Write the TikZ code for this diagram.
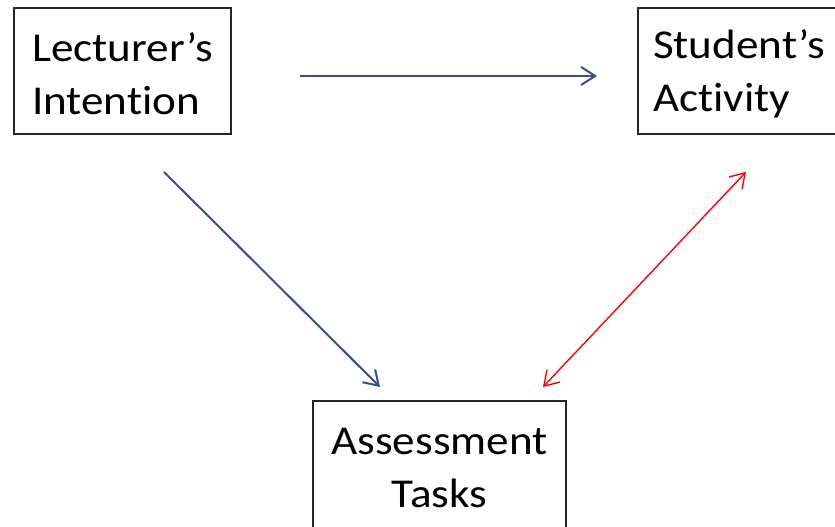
\documentclass[tikz,border=0pt]{standalone}
\usepackage{fontspec}
\setmainfont{Carlito}[FakeStretch=1.1,Ligatures=NoCommon]
\usetikzlibrary{arrows.meta}
\definecolor{lineblue}{RGB}{47,82,143}
\begin{document}
\begin{tikzpicture}[x=1pt,y=1pt,
  box/.style={draw=black!85, line width=1.3pt, inner sep=0pt},
  boxtext/.style={inner sep=0pt, yshift=-3pt, font=\fontsize{41}{53}\selectfont},
  bluearrow/.style={draw=lineblue, line width=2pt, -{Straight Barb[length=14pt,width=18pt,line width=2pt]}},
  redarrow/.style={draw=red, line width=1.4pt, {Straight Barb[length=14pt,width=18pt,line width=1.4pt]}-{Straight Barb[length=14pt,width=18pt,line width=1.4pt]}}]
\useasboundingbox (0,0) rectangle (835,527);
\clip (0,0) rectangle (835,527);
\node[box, minimum width=217pt, minimum height=126pt,
  label={[boxtext, align=left]center:{Lecturer’s\\Intention}}] (lect) at (122.5,456) {};
\node[box, minimum width=202pt, minimum height=126pt,
  label={[boxtext, align=left]center:{Student’s\\Activity}}] (stud) at (739,456) {};
\node[box, minimum width=253pt, minimum height=127pt,
  label={[boxtext, align=center]center:{Assessment\\Tasks}}] (asse) at (439.5,62.5) {};
\coordinate (a1) at (300,451);
\coordinate (a2) at (597,451);
\coordinate (b1) at (164,355);
\coordinate (b2) at (380,140);
\coordinate (c1) at (746,355);
\coordinate (c2) at (543,140);
\draw[bluearrow] (a1) -- (a2);
\draw[bluearrow] (b1) -- (b2);
\draw[redarrow] (c2) -- (c1);
\end{tikzpicture}
\end{document}
